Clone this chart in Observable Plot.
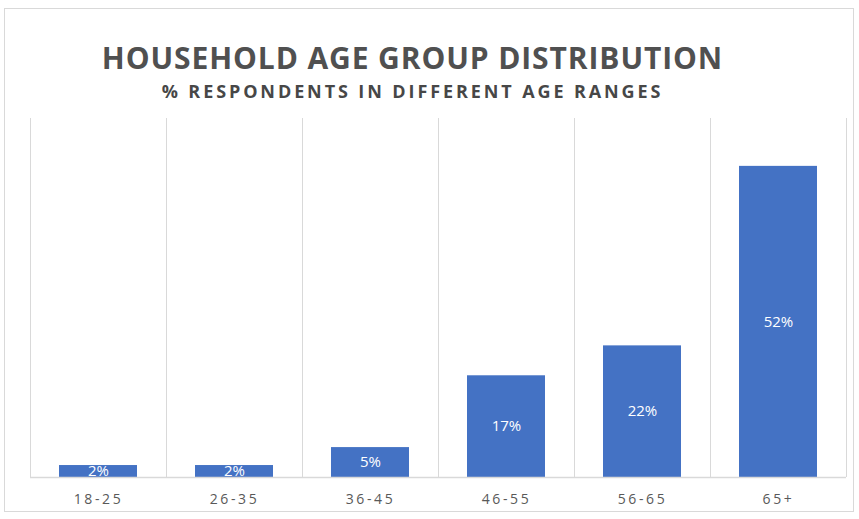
<!DOCTYPE html>
<html>
<head>
<meta charset="utf-8">
<script src="https://cdn.jsdelivr.net/npm/d3@7"></script>
<script src="https://cdn.jsdelivr.net/npm/@observablehq/plot@0.6"></script>
<style>
  html, body { margin: 0; padding: 0; background: #fff; }
  #wrap { position: relative; width: 859px; height: 519px; overflow: hidden; font-family: "Open Sans", sans-serif; }
  #frame { position: absolute; left: 4px; top: 8px; width: 850px; height: 504px; border: 1px solid #d9d9d9; box-sizing: border-box; }
  #title { position: absolute; left: 0; width: 825px; top: 38px; text-align: center; font-size: 30px; font-weight: 700; color: #505050; letter-spacing: 0.9px; line-height: 40px; }
  #subtitle { position: absolute; left: 0; width: 825px; top: 79px; text-align: center; font-size: 18px; font-weight: 700; color: #474747; letter-spacing: 2.9px; line-height: 24px; }
  #chart { position: absolute; left: 0; top: 0; }
  #chart g[aria-label="x-axis tick label"] text { letter-spacing: 2.6px; }
</style>
</head>
<body>
<div id="wrap">
  <div id="frame"></div>
  <div id="title">HOUSEHOLD AGE GROUP DISTRIBUTION</div>
  <div id="subtitle">% RESPONDENTS IN DIFFERENT AGE RANGES</div>
  <div id="chart"></div>
</div>
<script>
const ageGroups = ["18-25", "26-35", "36-45", "46-55", "56-65", "65+"];
const shares = [2, 2, 5, 17, 22, 52];
const labels = ["2%", "2%", "5%", "17%", "22%", "52%"];
const yMax = 60;

const data = ageGroups.map((g, i) => ({group: g, value: shares[i], label: labels[i]}));

const W = 859, H = 519;
const mL = 30, mR = 13, mT = 118, mB = 42;
const pad = 0.43;
const step = (W - mL - mR) / ageGroups.length;

const chart = Plot.plot({
  width: W,
  height: H,
  marginLeft: mL,
  marginRight: mR,
  marginTop: mT,
  marginBottom: mB,
  style: {fontFamily: "Open Sans, sans-serif", background: "transparent"},
  x: {domain: ageGroups, padding: pad, paddingOuter: pad / 2, label: null},
  y: {domain: [0, yMax], axis: null},
  marks: [
    Plot.ruleX(data, {x: "group", y1: 0, y2: yMax, stroke: "#d9d9d9", strokeWidth: 1, dx: -step / 2}),
    Plot.ruleX(data, {x: "group", y1: 0, y2: yMax, stroke: "#d9d9d9", strokeWidth: 1, dx: step / 2}),
    Plot.barY(data, {x: "group", y: "value", fill: "#4472C4"}),
    Plot.ruleY([0], {stroke: "#d9d9d9", strokeWidth: 1.5}),
    Plot.text(data, {x: "group", y: d => d.value / 2, text: "label", fill: "white", fontSize: 15, fontWeight: 500}),
    Plot.axisX({tickSize: 0, tickPadding: 17, fontSize: 14, fill: "#595959", label: null})
  ]
});
document.getElementById("chart").appendChild(chart);
</script>
</body>
</html>
